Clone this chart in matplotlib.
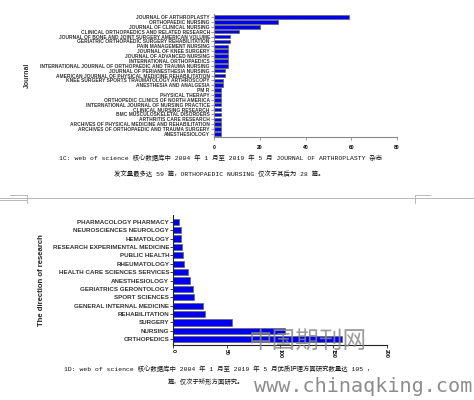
import matplotlib
matplotlib.use("Agg")
import matplotlib.pyplot as plt
from matplotlib.lines import Line2D

W, H = 474, 400

# Figure 1C: publications per journal
journals = [
    "JOURNAL OF ARTHROPLASTY",
    "ORTHOPAEDIC NURSING",
    "JOURNAL OF CLINICAL NURSING",
    "CLINICAL ORTHOPAEDICS AND RELATED RESEARCH",
    "JOURNAL OF BONE AND JOINT SURGERY AMERICAN VOLUME",
    "GERIATRIC ORTHOPAEDIC SURGERY REHABILITATION",
    "PAIN MANAGEMENT NURSING",
    "JOURNAL OF KNEE SURGERY",
    "JOURNAL OF ADVANCED NURSING",
    "INTERNATIONAL ORTHOPAEDICS",
    "INTERNATIONAL JOURNAL OF ORTHOPAEDIC AND TRAUMA NURSING",
    "JOURNAL OF PERIANESTHESIA NURSING",
    "AMERICAN JOURNAL OF PHYSICAL MEDICINE REHABILITATION",
    "KNEE SURGERY SPORTS TRAUMATOLOGY ARTHROSCOPY",
    "ANESTHESIA AND ANALGESIA",
    "PM R",
    "PHYSICAL THERAPY",
    "ORTHOPEDIC CLINICS OF NORTH AMERICA",
    "INTERNATIONAL JOURNAL OF NURSING PRACTICE",
    "CLINICAL NURSING RESEARCH",
    "BMC MUSCULOSKELETAL DISORDERS",
    "ARTHRITIS CARE RESEARCH",
    "ARCHIVES OF PHYSICAL MEDICINE AND REHABILITATION",
    "ARCHIVES OF ORTHOPAEDIC AND TRAUMA SURGERY",
    "ANESTHESIOLOGY",
]
journal_counts = [59, 28, 20, 11, 7, 7, 6, 6, 6, 6, 6, 5, 5, 4, 4,
                  3, 3, 3, 3, 3, 3, 3, 3, 3, 3]
journal_ticks = [0, 20, 40, 60, 80]

# Figure 1D: publications per research direction
directions = [
    "PHARMACOLOGY PHARMACY",
    "NEUROSCIENCES NEUROLOGY",
    "HEMATOLOGY",
    "RESEARCH EXPERIMENTAL MEDICINE",
    "PUBLIC HEALTH",
    "RHEUMATOLOGY",
    "HEALTH CARE SCIENCES SERVICES",
    "ANESTHESIOLOGY",
    "GERIATRICS GERONTOLOGY",
    "SPORT SCIENCES",
    "GENERAL INTERNAL MEDICINE",
    "REHABILITATION",
    "SURGERY",
    "NURSING",
    "ORTHOPEDICS",
]
direction_counts = [5, 7, 7, 8, 9, 10, 14, 16, 18, 19, 28, 30, 55, 105, 158]
direction_ticks = [0, 50, 100, 150, 200]

caption_c = ["1C: web of science 核心数据库中 2004 年 1 月至 2019 年 5 月 JOURNAL OF ARTHROPLASTY 杂志",
             "发文量最多达 59 篇，ORTHOPAEDIC NURSING 仅次于其后为 28 篇。"]
caption_d = ["1D: web of science 核心数据库中 2004 年 1 月至 2019 年 5 月优质护理方面研究数量达 105 ，",
             "篇，仅次于矫形方面研究。"]

CAP_FONT = ["Liberation Mono", "Noto Sans CJK SC"]
LAB_FONT = ["Liberation Sans", "DejaVu Sans"]
BAR_COLOR = "#0000f0"
BAR_EDGE = "#6a6a7a"

fig = plt.figure(figsize=(W / 100, H / 100), dpi=100)
fig.patch.set_facecolor("white")


def rect(left, top, right, bottom):
    return [left / W, 1 - bottom / H, (right - left) / W, (bottom - top) / H]


def style_axes(ax, spine_color):
    for s in ("top", "right"):
        ax.spines[s].set_visible(False)
    for s in ("left", "bottom"):
        ax.spines[s].set_color(spine_color)
        ax.spines[s].set_linewidth(0.8)
    ax.tick_params(axis="both", direction="out", length=2, width=0.6,
                   color=spine_color, pad=1)


# ---- top chart -------------------------------------------------------
ax1 = fig.add_axes(rect(214, 14, 397, 137))
y1 = range(len(journals))
ax1.barh(list(y1), journal_counts, height=0.72, color=BAR_COLOR,
         edgecolor=BAR_EDGE, linewidth=0.6)
ax1.set_xlim(0, 80)
ax1.set_ylim(len(journals) - 1 + 0.62, -0.62)
ax1.set_xticks(journal_ticks)
ax1.set_xticklabels([str(t) for t in journal_ticks], fontsize=3.6,
                    fontweight="bold", family=LAB_FONT)
ax1.set_yticks(list(y1))
ax1.set_yticklabels(journals, fontsize=3.5, fontweight="bold",
                    family=LAB_FONT, color="#333333")
ax1.set_ylabel("Journal", fontsize=5, fontweight="bold", family=LAB_FONT,
               labelpad=2, color="#333333")
ax1.yaxis.set_label_coords(-1.0, 0.5)
style_axes(ax1, "#888888")
ax1.tick_params(axis="x", pad=4)

# ---- bottom chart ----------------------------------------------------
ax2 = fig.add_axes(rect(173.3, 215, 386.7, 345))
y2 = range(len(directions))
ax2.barh(list(y2), direction_counts, height=0.72, color=BAR_COLOR,
         edgecolor=BAR_EDGE, linewidth=0.6)
ax2.set_xlim(0, 200)
ax2.set_ylim(len(directions) - 1 + 0.68, -0.8)
ax2.set_xticks(direction_ticks)
ax2.set_xticklabels([str(t) for t in direction_ticks], fontsize=3.8,
                    fontweight="bold", family=LAB_FONT, rotation=-90)
ax2.set_yticks(list(y2))
ax2.set_yticklabels(directions, fontsize=4.5, fontweight="bold",
                    family=LAB_FONT, color="#333333")
ax2.set_ylabel("The direction of research", fontsize=5.6, fontweight="bold",
               family=LAB_FONT, color="#222222")
ax2.yaxis.set_label_coords((45 - 173.3) / 213.4, 0.5)
style_axes(ax2, "#222222")

# ---- captions --------------------------------------------------------
fig.text(221 / W, 1 - 158 / H, caption_c[0], ha="center", va="center",
         fontsize=4.6, family=CAP_FONT, color="#111111")
fig.text(219 / W, 1 - 174 / H, caption_c[1], ha="center", va="center",
         fontsize=4.6, family=CAP_FONT, color="#111111")
fig.text(219 / W, 1 - 369 / H, caption_d[0], ha="center", va="center",
         fontsize=4.6, family=CAP_FONT, color="#111111")
fig.text(168 / W, 1 - 382 / H, caption_d[1], ha="left", va="center",
         fontsize=4.6, family=CAP_FONT, color="#111111")

# ---- page break and crop marks --------------------------------------
def px_line(x0, y0, x1, y1, color="#b8b8b8", lw=0.7):
    fig.add_artist(Line2D([x0 / W, x1 / W], [1 - y0 / H, 1 - y1 / H],
                          color=color, linewidth=lw))


px_line(0, 198, W, 198)
px_line(10, 195, 27, 195)
px_line(27, 195, 27, 203)
px_line(415, 195, 430, 195)
px_line(415, 195, 415, 203)
px_line(0, 200, 27, 200)

# ---- site watermark --------------------------------------------------
fig.text(308 / W, 1 - 341 / H, "中国期刊网", ha="center", va="center",
         fontsize=17, family=["Noto Sans CJK SC"], fontweight="light",
         color="#8a8a8a", alpha=0.85)
fig.text(254 / W, 1 - 386 / H, "www.chinaqking.com", ha="left", va="center",
         fontsize=14.5, family=["DejaVu Sans Mono"], color="#808080",
         alpha=0.9)

fig.savefig("out.png", dpi=100, facecolor="white")
